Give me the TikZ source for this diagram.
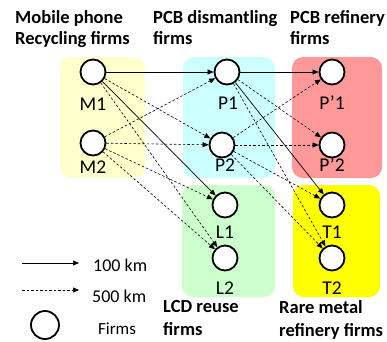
\documentclass[tikz,border=0pt]{standalone}
\usepackage{fontspec}
\setmainfont{Carlito}
\usetikzlibrary{arrows.meta}
\definecolor{boxM}{HTML}{FFFFCC}
\definecolor{boxP}{HTML}{CCFFFF}
\definecolor{boxR}{HTML}{FF9999}
\definecolor{boxL}{HTML}{CCFFCC}
\definecolor{boxT}{HTML}{FFFF00}
\begin{document}
\begin{tikzpicture}[x=1pt,y=-1pt,
  firm/.style={circle,draw=black,fill=white,line width=1.8pt,minimum size=25pt,inner sep=0pt},
  lab/.style={font=\fontsize{19.5}{21}\selectfont,inner sep=0pt},
  title/.style={font=\bfseries\fontsize{18.5}{21}\selectfont,align=left,anchor=north west,inner sep=0pt},
  grp/.style={rounded corners=11pt},
  near/.style={line width=0.7pt,-{Triangle[length=6pt,width=5pt]}},
  far/.style={line width=0.6pt,dash pattern=on 2.5pt off 2pt,-{Triangle[length=6pt,width=5pt]}}]
\useasboundingbox (0,0) rectangle (387,341);
\fill[boxM,grp] (60,57) rectangle (145,178);
\fill[boxP,grp] (183,57) rectangle (275,178);
\fill[boxR,grp] (292,57) rectangle (382,178);
\fill[boxL,grp] (182,185) rectangle (275,297);
\fill[boxT,grp] (293,185) rectangle (380,297);

\node[title] (tM) at (15,10) {Mobile phone\\Recycling firms};
\node[title] (tP) at (153,10) {PCB dismantling\\firms};
\node[title] (tR) at (290,10) {PCB refinery\\firms};
\node[title,font=\bfseries\fontsize{18.5}{23.5}\selectfont] (tL) at (163,300) {LCD reuse\\firms};
\node[title,font=\bfseries\fontsize{18.5}{23.5}\selectfont] (tT) at (279,300) {Rare metal\\refinery firms};

\node[firm] (M1) at (93,72) {};
\node[firm] (M2) at (93,143) {};
\node[firm] (P1) at (227,72) {};
\node[firm] (P2) at (222,145) {};
\node[firm] (Q1) at (332,72) {};
\node[firm] (Q2) at (332,145) {};
\node[firm] (L1) at (225,205) {};
\node[firm] (L2) at (225,258) {};
\node[firm] (T1) at (332,205) {};
\node[firm] (T2) at (332,258) {};

\node[lab] (lM1) at (93,104) {M1};
\node[lab] (lM2) at (93,167) {M2};
\node[lab] (lP1) at (228,103) {P1};
\node[lab] (lP2) at (225,165) {P2};
\node[lab] (lQ1) at (332,103) {P’1};
\node[lab] (lQ2) at (332,165) {P’2};
\node[lab] (lL1) at (225,232) {L1};
\node[lab] (lL2) at (225,288) {L2};
\node[lab] (lT1) at (332,232) {T1};
\node[lab] (lT2) at (332,288) {T2};

\draw[near] (M1) -- (P1);
\draw[far] (M1) -- (P2);
\draw[near] (M1) -- (L1);
\draw[far] (M1) -- (L2);
\draw[far] (M2) -- (P1);
\draw[far] (M2) -- (P2);
\draw[far] (M2) -- (L1);
\draw[far] (M2) -- (L2);
\draw[near] (P1) -- (Q1);
\draw[far] (P1) -- (Q2);
\draw[near] (P1) -- (T1);
\draw[far] (P1) -- (T2);
\draw[far] (P2) -- (Q1);
\draw[far] (P2) -- (Q2);
\draw[far] (P2) -- (T1);
\draw[far] (P2) -- (T2);

\coordinate (a1) at (22,263);
\coordinate (a2) at (79,263);
\coordinate (b1) at (22,290);
\coordinate (b2) at (79,290);
\draw[near] (a1) -- (a2);
\draw[far] (b1) -- (b2);
\node[lab,anchor=west,font=\fontsize{18}{20}\selectfont] (k1) at (93,265) {100 km};
\node[lab,anchor=west,font=\fontsize{18}{20}\selectfont] (k2) at (92,296) {500 km};
\node[firm,minimum size=28pt] (leg) at (45,325) {};
\node[lab,font=\fontsize{17}{19}\selectfont] (kf) at (117,329) {Firms};
\end{tikzpicture}
\end{document}
